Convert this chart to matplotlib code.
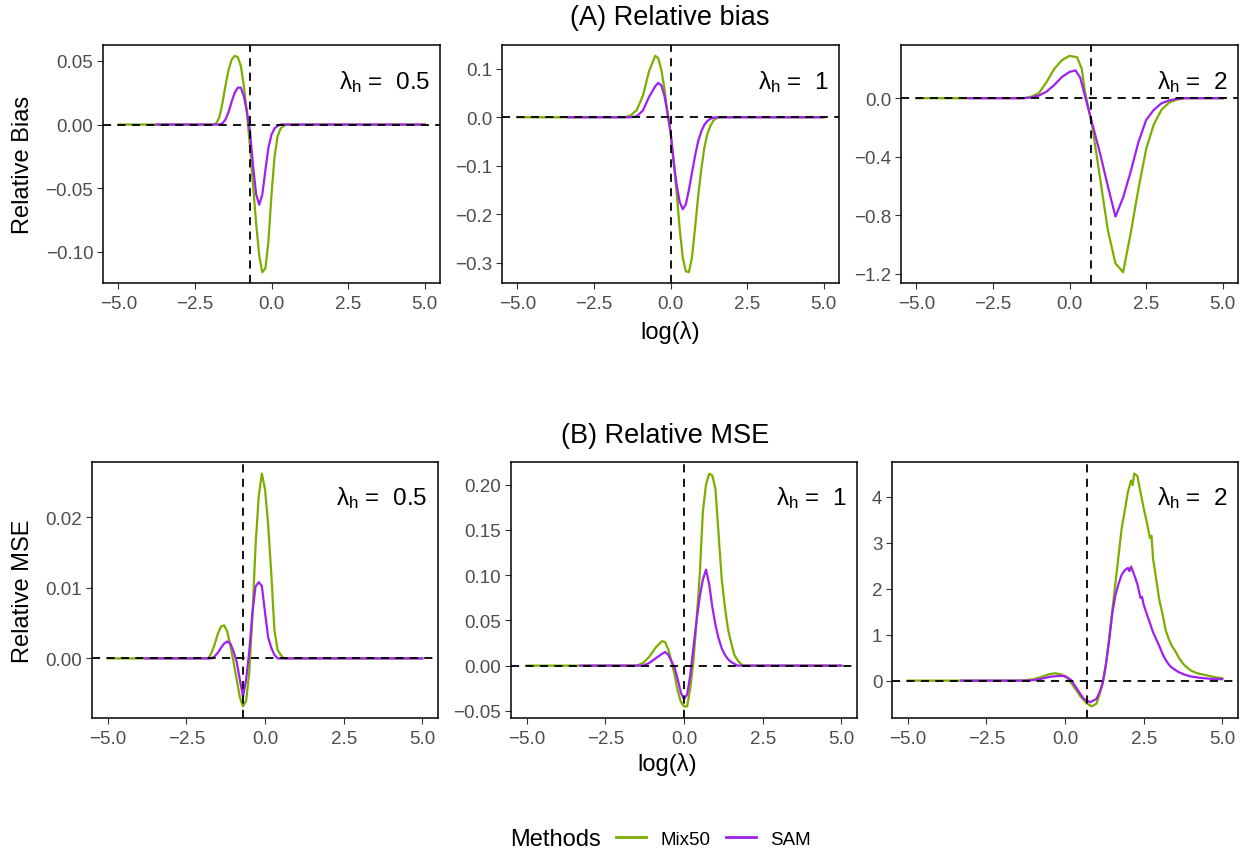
import numpy as np
import matplotlib
matplotlib.use('Agg')
import matplotlib.pyplot as plt
from matplotlib.lines import Line2D

plt.rcParams['font.family'] = ['Liberation Sans', 'DejaVu Sans']
plt.rcParams['mathtext.fontset'] = 'custom'
plt.rcParams['mathtext.rm'] = 'Liberation Sans'
plt.rcParams['mathtext.it'] = 'Liberation Sans'
plt.rcParams['mathtext.bf'] = 'Liberation Sans:bold'

# lambda_h for the three columns
lam_h = [0.5, 1, 2]
methods = ['Mix50', 'SAM']

# ---- (A) relative bias, lambda_h = 0.5
a1_x_mix = [-5.0, -1.9, -1.8, -1.7, -1.6, -1.5, -1.4, -1.3, -1.2, -1.1, -1.0, -0.9, -0.8, -0.7, -0.6,
            -0.5, -0.4, -0.3, -0.2, -0.1, 0.0, 0.1, 0.2, 0.3, 0.4, 0.5, 5.0]
a1_mix = [0, 0, 0.001, 0.006, 0.017, 0.031, 0.043, 0.051, 0.054, 0.053, 0.046, 0.030, 0.008, -0.018, -0.048,
          -0.078, -0.103, -0.116, -0.113, -0.092, -0.055, -0.025, -0.009, -0.003, -0.001, 0, 0]
a1_x_sam = [-3.75, -1.7, -1.6, -1.5, -1.4, -1.3, -1.2, -1.1, -1.0, -0.9, -0.8, -0.7, -0.6, -0.5, -0.4,
            -0.3, -0.2, -0.1, 0.0, 0.1, 0.2, 0.3, 5.0]
a1_sam = [0, 0, 0.001, 0.004, 0.010, 0.018, 0.025, 0.029, 0.029, 0.022, 0.010, -0.006, -0.033, -0.055, -0.063,
          -0.055, -0.036, -0.018, -0.008, -0.003, -0.001, 0, 0]

# ---- (A) relative bias, lambda_h = 1
a2_x_mix = [-5.0, -1.5, -1.3, -1.1, -0.9, -0.7, -0.5, -0.4, -0.3, -0.2, -0.1, 0.0, 0.1, 0.2, 0.3, 0.4,
            0.5, 0.6, 0.7, 0.8, 0.9, 1.0, 1.1, 1.2, 1.3, 1.4, 1.5, 1.6, 5.0]
a2_mix = [0, 0, 0.004, 0.015, 0.045, 0.095, 0.127, 0.122, 0.098, 0.060, 0.010, -0.030, -0.090, -0.155, -0.230,
          -0.290, -0.318, -0.320, -0.290, -0.230, -0.165, -0.110, -0.065, -0.035, -0.018, -0.007, -0.002, 0, 0]
a2_x_sam = [-3.35, -1.3, -1.1, -0.9, -0.7, -0.5, -0.4, -0.3, -0.2, -0.1, 0.0, 0.1, 0.2, 0.3, 0.4, 0.5,
            0.6, 0.7, 0.8, 0.9, 1.0, 1.1, 1.2, 1.3, 1.4, 1.5, 5.0]
a2_sam = [0, 0, 0.002, 0.014, 0.042, 0.064, 0.071, 0.066, 0.045, 0.010, -0.030, -0.090, -0.140, -0.175, -0.190,
          -0.180, -0.150, -0.115, -0.080, -0.050, -0.030, -0.016, -0.008, -0.003, -0.001, 0, 0]

# ---- (A) relative bias, lambda_h = 2
a3_x_mix = [-5.0, -1.5, -1.25, -1.0, -0.75, -0.5, -0.25, 0.0, 0.25, 0.4, 0.5, 0.6, 0.75, 1.0, 1.25,
            1.5, 1.75, 2.0, 2.25, 2.5, 2.75, 3.0, 3.25, 3.5, 3.75, 5.0]
a3_mix = [0, 0, 0.01, 0.035, 0.11, 0.20, 0.26, 0.29, 0.28, 0.20, 0.05, -0.05, -0.20, -0.55, -0.90,
          -1.13, -1.19, -0.92, -0.62, -0.35, -0.18, -0.08, -0.03, -0.01, 0, 0]
a3_x_sam = [-3.3, -1.5, -1.25, -1.0, -0.75, -0.5, -0.25, 0.0, 0.2, 0.35, 0.5, 0.65, 0.85, 1.0, 1.25,
            1.5, 1.75, 2.0, 2.25, 2.5, 2.75, 3.0, 3.25, 3.5, 3.75, 5.0]
a3_sam = [0, 0, 0.005, 0.018, 0.045, 0.09, 0.145, 0.18, 0.19, 0.14, 0.02, -0.10, -0.26, -0.38, -0.60,
          -0.81, -0.68, -0.50, -0.30, -0.15, -0.08, -0.035, -0.015, -0.005, 0, 0]

# ---- (B) relative MSE, lambda_h = 0.5
b1_x_mix = [-5.0, -1.8, -1.7, -1.6, -1.5, -1.4, -1.3, -1.2, -1.1, -1.0, -0.9, -0.8, -0.7, -0.6, -0.5,
            -0.4, -0.3, -0.2, -0.1, 0.0, 0.1, 0.2, 0.3, 0.4, 0.5, 0.6, 5.0]
b1_mix = [0, 0, 0.0008, 0.002, 0.0035, 0.0045, 0.0047, 0.0038, 0.0018, -0.0005, -0.003, -0.0055, -0.0068,
          -0.006, -0.002, 0.006, 0.016, 0.023, 0.0262, 0.024, 0.019, 0.012, 0.004, 0.0012, 0.0005, 0, 0]
b1_x_sam = [-3.8, -1.7, -1.6, -1.5, -1.4, -1.3, -1.2, -1.1, -1.0, -0.9, -0.8, -0.7, -0.6, -0.5, -0.4,
            -0.3, -0.2, -0.1, 0.0, 0.1, 0.2, 0.3, 0.4, 5.0]
b1_sam = [0, 0, 0.0003, 0.0008, 0.0015, 0.0021, 0.0024, 0.0021, 0.001, -0.0005, -0.003, -0.0054, -0.003,
          0.001, 0.0065, 0.0102, 0.0108, 0.0103, 0.0065, 0.003, 0.0015, 0.0005, 0, 0]

# ---- (B) relative MSE, lambda_h = 1
b2_x_mix = [-5.0, -1.5, -1.3, -1.1, -0.9, -0.7, -0.6, -0.5, -0.4, -0.3, -0.2, -0.1, 0.0, 0.1, 0.2, 0.3,
            0.4, 0.5, 0.6, 0.7, 0.8, 0.9, 1.0, 1.1, 1.2, 1.3, 1.4, 1.5, 1.6, 1.7, 1.8, 1.9, 5.0]
b2_mix = [0, 0, 0.003, 0.010, 0.020, 0.027, 0.026, 0.018, 0.005, -0.010, -0.028, -0.040, -0.045, -0.045,
          -0.025, 0.005, 0.050, 0.100, 0.170, 0.200, 0.212, 0.210, 0.195, 0.145, 0.095, 0.065, 0.040,
          0.025, 0.012, 0.006, 0.002, 0, 0]
b2_x_sam = [-3.3, -1.3, -1.1, -0.9, -0.7, -0.6, -0.5, -0.4, -0.3, -0.2, -0.1, 0.0, 0.1, 0.2, 0.3, 0.4,
            0.5, 0.6, 0.7, 0.8, 0.9, 1.0, 1.1, 1.2, 1.3, 1.4, 1.5, 1.6, 1.7, 5.0]
b2_sam = [0, 0, 0.003, 0.008, 0.013, 0.015, 0.012, 0.005, -0.002, -0.015, -0.030, -0.037, -0.032, -0.010,
          0.020, 0.050, 0.076, 0.095, 0.106, 0.090, 0.065, 0.045, 0.030, 0.019, 0.012, 0.007, 0.004,
          0.002, 0, 0]

# ---- (B) relative MSE, lambda_h = 2
b3_x_mix = [-5.0, -1.5, -1.25, -1.0, -0.75, -0.5, -0.3, -0.1, 0.1, 0.3, 0.5, 0.7, 0.85, 1.0, 1.1, 1.2,
            1.3, 1.4, 1.5, 1.6, 1.7, 1.8, 1.9, 2.0, 2.1, 2.15, 2.2, 2.3, 2.4, 2.5, 2.6, 2.7, 2.75, 2.8,
            2.9, 3.0, 3.1, 3.2, 3.3, 3.4, 3.5, 3.6, 3.7, 3.8, 4.0, 4.2, 4.4, 4.6, 4.8, 5.0]
b3_mix = [0, 0, 0.01, 0.03, 0.08, 0.14, 0.16, 0.13, 0.04, -0.15, -0.35, -0.50, -0.56, -0.50, -0.30, -0.05,
          0.35, 0.90, 1.50, 2.10, 2.70, 3.30, 3.70, 4.10, 4.35, 4.25, 4.50, 4.45, 4.10, 3.75, 3.45, 3.10,
          3.15, 2.65, 2.20, 1.75, 1.45, 1.10, 0.90, 0.75, 0.65, 0.52, 0.42, 0.33, 0.22, 0.16, 0.13, 0.10,
          0.07, 0.05]
b3_x_sam = [-3.3, -1.25, -1.0, -0.75, -0.5, -0.25, 0.0, 0.2, 0.4, 0.6, 0.8, 1.0, 1.1, 1.2, 1.3, 1.4,
            1.5, 1.6, 1.7, 1.8, 1.9, 2.0, 2.05, 2.1, 2.2, 2.3, 2.4, 2.45, 2.5, 2.6, 2.7, 2.8, 2.9, 3.0,
            3.1, 3.2, 3.3, 3.4, 3.6, 3.8, 4.0, 4.3, 4.6, 5.0]
b3_sam = [0, 0, 0.01, 0.04, 0.08, 0.10, 0.10, 0.01, -0.20, -0.40, -0.47, -0.40, -0.25, -0.05, 0.35, 0.85,
          1.45, 1.85, 2.10, 2.30, 2.40, 2.45, 2.38, 2.48, 2.30, 2.10, 1.80, 1.82, 1.65, 1.45, 1.25, 1.05,
          0.90, 0.75, 0.58, 0.45, 0.35, 0.28, 0.19, 0.13, 0.09, 0.06, 0.04, 0.03]

x_ticks = [-5.0, -2.5, 0.0, 2.5, 5.0]
a_yticks = [[-0.10, -0.05, 0.00, 0.05], [-0.3, -0.2, -0.1, 0.0, 0.1], [-1.2, -0.8, -0.4, 0.0]]
b_yticks = [[0.00, 0.01, 0.02], [-0.05, 0.00, 0.05, 0.10, 0.15, 0.20], [0, 1, 2, 3, 4]]

GREEN = '#7CAE00'
PURPLE = '#A020F0'

W, H = 1247, 854
fig = plt.figure(figsize=(W / 100, H / 100), dpi=100)

def px_axes(l, t, r, b):
    return fig.add_axes([l / W, 1 - b / H, (r - l) / W, (b - t) / H])

panels = [
    ((103, 46, 440, 284), a1_x_mix, a1_mix, a1_x_sam, a1_sam, lam_h[0], a_yticks[0], 0.85),
    ((502, 46, 839, 284), a2_x_mix, a2_mix, a2_x_sam, a2_sam, lam_h[1], a_yticks[1], 0.85),
    ((901, 46, 1238, 284), a3_x_mix, a3_mix, a3_x_sam, a3_sam, lam_h[2], a_yticks[2], 0.85),
    ((92, 463, 438, 719), b1_x_mix, b1_mix, b1_x_sam, b1_sam, lam_h[0], b_yticks[0], 0.865),
    ((511, 463, 857, 719), b2_x_mix, b2_mix, b2_x_sam, b2_sam, lam_h[1], b_yticks[1], 0.865),
    ((892, 463, 1238, 719), b3_x_mix, b3_mix, b3_x_sam, b3_sam, lam_h[2], b_yticks[2], 0.865),
]

dash = (0, (4.5, 3.5))
for box, xm, ym, xs, ys, lam, yt, ty in panels:
    ax = px_axes(*box)
    ax.plot(xm, ym, color=GREEN, lw=1.6, zorder=2)
    ax.plot(xs, ys, color=PURPLE, lw=1.6, zorder=3)
    ax.axhline(0, color='black', lw=1.3, ls=dash, zorder=4)
    ax.axvline(np.log(lam), color='black', lw=1.3, ls=dash, zorder=4)
    ax.set_xlim(-5.5, 5.5)
    ax.margins(y=0.05)
    ax.set_xticks(x_ticks)
    ax.set_yticks(yt)
    ax.tick_params(direction='out', length=4.5, width=0.8, color='#333333',
                   labelcolor='#4D4D4D', labelsize=13.5)
    ax.tick_params(axis='x', pad=4)
    ax.tick_params(axis='y', pad=2.5)
    for s in ax.spines.values():
        s.set_linewidth(1.1)
        s.set_color('black')
    ax.text(0.97, ty, r'$\lambda_{h}$ =  ' + ('%g' % lam), transform=ax.transAxes,
            ha='right', va='center', fontsize=17.5, color='black')

fig.text(670 / W, 1 - 18 / H, '(A) Relative bias', ha='center', va='center', fontsize=19.5)
fig.text(665 / W, 1 - 436 / H, '(B) Relative MSE', ha='center', va='center', fontsize=19.5)
fig.text(23 / W, 1 - 165 / H, 'Relative Bias', rotation=90, ha='center', va='center', fontsize=17)
fig.text(23 / W, 1 - 591 / H, 'Relative MSE', rotation=90, ha='center', va='center', fontsize=17)
fig.text(670 / W, 1 - 332 / H, 'log(λ)', ha='center', va='center', fontsize=17)
fig.text(667 / W, 1 - 765 / H, 'log(λ)', ha='center', va='center', fontsize=17)

fig.text(510 / W, 1 - 840 / H, 'Methods', ha='left', va='center', fontsize=17)
handles = [Line2D([], [], color=GREEN, lw=2), Line2D([], [], color=PURPLE, lw=2)]
fig.legend(handles, methods, loc='center left', bbox_to_anchor=(616 / W, 1 - 840 / H), ncol=2,
           frameon=False, fontsize=13.5, handlelength=1.6, handletextpad=0.75,
           columnspacing=0.85, borderpad=0, borderaxespad=0)

fig.savefig('out.png', dpi=100)
